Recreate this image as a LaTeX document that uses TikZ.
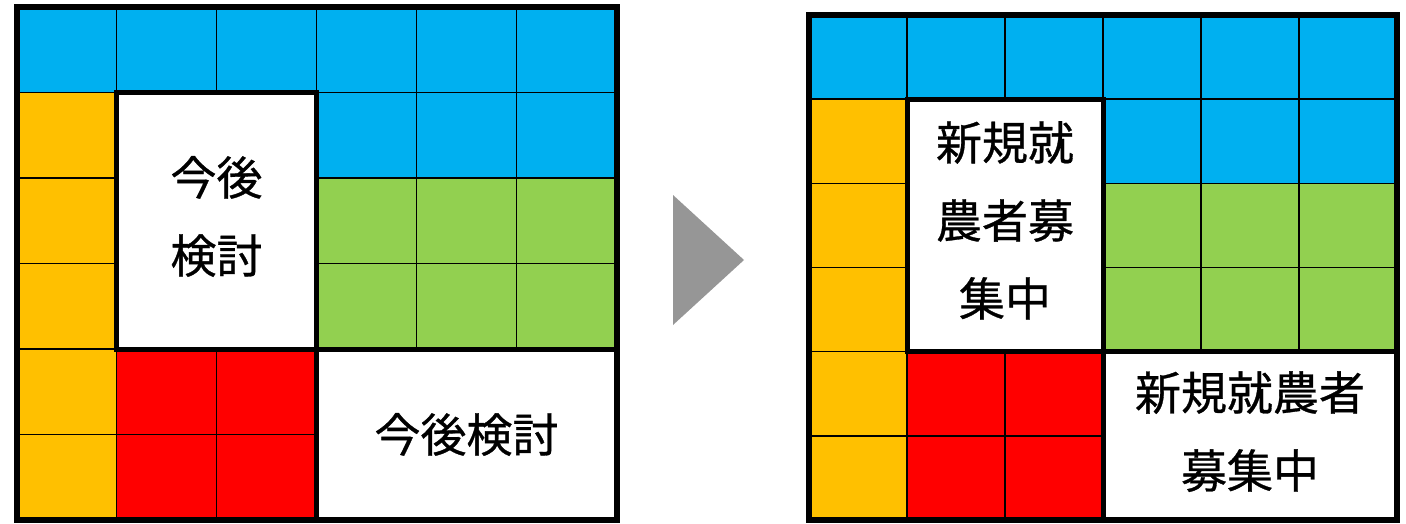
\documentclass[tikz,border=0pt]{standalone}
\usepackage{fontspec}
\newfontfamily\jpfont[FakeBold=0.7]{Noto Sans CJK JP}
\definecolor{cblue}{HTML}{00B0F0}
\definecolor{cyellow}{HTML}{FFC000}
\definecolor{cgreen}{HTML}{92D050}
\definecolor{cred}{HTML}{FF0000}
\definecolor{carrow}{HTML}{969696}
\begin{document}
\begin{tikzpicture}[x=1pt,y=-1pt,
  cell/.style={draw=black,line width=1.5pt},
  thickbox/.style={draw=black,line width=5pt,fill=white},
  outerbox/.style={draw=black,line width=6pt},
  lbl/.style={font=\jpfont\fontsize{46}{78}\selectfont,align=center,inner sep=0pt}]
\useasboundingbox (0,0) rectangle (1406,524);
% left grid
\begin{scope}[shift={(16.5,7)},x=100pt,y=-85.5pt]
  \foreach \c in {0,...,5} \draw[cell,fill=cblue] (\c,0) rectangle ++(1,1);
  \foreach \r in {1,...,5} \draw[cell,fill=cyellow] (0,\r) rectangle ++(1,1);
  \foreach \c in {3,4,5} {
    \draw[cell,fill=cblue] (\c,1) rectangle ++(1,1);
    \foreach \r in {2,3} \draw[cell,fill=cgreen] (\c,\r) rectangle ++(1,1);
  }
  \foreach \c in {1,2} \foreach \r in {4,5} \draw[cell,fill=cred] (\c,\r) rectangle ++(1,1);
  \draw[thickbox] (1,1) rectangle (3,4);
  \draw[thickbox] (3,4) rectangle (6,6);
  \draw[outerbox] (0,0) rectangle (6,6);
  \node[lbl] (leftinner) at (2,2.45) {今後\\検討};
  \node[lbl] (leftcorner) at (4.5,5) {今後検討};
\end{scope}
% arrow
\fill[carrow] (673,195) -- (744,260) -- (673,325) -- cycle;
% right grid
\begin{scope}[shift={(809,15)},x=98pt,y=-84.17pt]
  \foreach \c in {0,...,5} \draw[cell,fill=cblue] (\c,0) rectangle ++(1,1);
  \foreach \r in {1,...,5} \draw[cell,fill=cyellow] (0,\r) rectangle ++(1,1);
  \foreach \c in {3,4,5} {
    \draw[cell,fill=cblue] (\c,1) rectangle ++(1,1);
    \foreach \r in {2,3} \draw[cell,fill=cgreen] (\c,\r) rectangle ++(1,1);
  }
  \foreach \c in {1,2} \foreach \r in {4,5} \draw[cell,fill=cred] (\c,\r) rectangle ++(1,1);
  \draw[thickbox] (1,1) rectangle (3,4);
  \draw[thickbox] (3,4) rectangle (6,6);
  \draw[outerbox] (0,0) rectangle (6,6);
  \node[lbl] (rightinner) at (2,2.44) {新規就\\農者募\\集中};
  \node[lbl] (rightcorner) at (4.5,4.95) {新規就農者\\募集中};
\end{scope}
\end{tikzpicture}
\end{document}
